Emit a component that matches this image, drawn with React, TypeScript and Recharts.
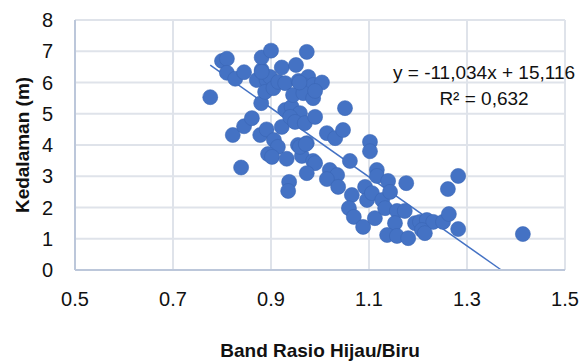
import React from 'react'
import {
  ScatterChart,
  Scatter,
  XAxis,
  YAxis,
  CartesianGrid,
  ReferenceLine,
} from 'recharts'

// band ratio green/blue (x) and depth in metres (y)
const ratio = [
  0.776, 0.8, 0.81, 0.81, 0.827, 0.845, 0.822, 0.845, 0.861, 0.839,
  0.88, 0.871, 0.881, 0.881, 0.9, 0.891, 0.898, 0.888, 0.905, 0.915,
  0.922, 0.929, 0.878, 0.891, 0.922, 0.906, 0.914, 0.894, 0.902, 0.932,
  0.937, 0.935, 0.929, 0.942, 0.946, 0.945, 0.951, 0.956, 0.973, 0.976,
  0.966, 0.986, 1.004, 0.966, 0.986, 0.99, 0.959, 0.939, 0.949, 0.969,
  0.99, 1.051, 0.973, 0.955, 0.963, 0.986, 0.99, 0.973, 1.014, 1.031,
  1.047, 1.102, 1.102, 1.061, 1.02, 1.035, 1.014, 1.037, 1.116, 1.116,
  1.139, 1.176, 1.282, 1.261, 1.065, 1.092, 1.096, 1.106, 1.127, 1.143,
  1.059, 1.069, 1.088, 1.112, 1.133, 1.157, 1.173, 1.153, 1.137, 1.157,
  1.18, 1.194, 1.204, 1.218, 1.231, 1.208, 1.214, 1.251, 1.263, 1.282,
  1.414, 0.959, 0.971, 0.881, 0.958,
]
const depth = [
  5.53, 6.69, 6.76, 6.31, 6.12, 6.33, 4.32, 4.6, 4.86, 3.28,
  5.34, 6.08, 6.4, 6.8, 7.02, 6.08, 6.18, 5.7, 5.82, 6.02,
  6.48, 5.98, 4.32, 4.5, 4.58, 4.16, 3.94, 3.71, 3.62, 3.56,
  2.82, 2.53, 5.12, 5.22, 4.8, 5.6, 6.56, 6.05, 6.98, 6.18,
  5.92, 5.92, 6.0, 5.66, 5.5, 5.73, 5.02, 4.9, 4.74, 4.7,
  4.9, 5.18, 4.06, 4.0, 3.65, 3.49, 3.42, 3.1, 4.38, 4.22,
  4.48, 4.1, 3.8, 3.49, 3.2, 3.04, 2.91, 2.66, 3.2, 3.01,
  2.85, 2.78, 3.01, 2.59, 2.4, 2.66, 2.24, 2.46, 2.24, 2.5,
  1.98, 1.7, 1.38, 1.66, 1.98, 1.89, 1.89, 1.5, 1.12, 1.09,
  1.02, 1.5, 1.54, 1.6, 1.54, 1.28, 1.18, 1.54, 1.79, 1.31,
  1.15, 3.94, 4.03, 6.34, 6.0,
]

const xTicks = [0.5, 0.7, 0.9, 1.1, 1.3, 1.5]
const yTicks = [0, 1, 2, 3, 4, 5, 6, 7, 8]

// linear trendline from the chart
const slope = -11.034
const intercept = 15.116
const r2 = 0.632
const trendStartX = Math.min(...ratio)

const data = ratio.map((x, i) => ({ x, y: depth[i] }))

const fmt = (v: number) => v.toLocaleString('id-ID', { minimumFractionDigits: 3 })

const font = "'Liberation Sans Narrow', 'Arial Narrow', 'Liberation Sans', Arial, sans-serif"
const blue = '#4472C4'

const Dot = (props: any) => (
  <circle cx={props.cx} cy={props.cy} r={7.5} fill={blue} stroke="#3b66b5" strokeWidth={0.6} />
)

export default function App() {
  const trendEndX = -intercept / slope
  return (
    <div style={{ position: 'absolute', left: 0, top: 0, width: 580, height: 362, background: '#fff', fontFamily: font }}>
      <ScatterChart width={580} height={362} margin={{ top: 20, right: 15, bottom: 0, left: 0 }}>
        <CartesianGrid stroke="#dfe3ea" strokeWidth={2} />
        <XAxis
          type="number"
          dataKey="x"
          domain={[0.5, 1.5]}
          ticks={xTicks}
          tickFormatter={(v) => String(v)}
          height={92}
          tickSize={0}
          tickMargin={22}
          axisLine={{ stroke: '#bcc7da', strokeWidth: 2 }}
          tick={{ fill: '#111', fontSize: 20, fontFamily: font }}
          label={{
            content: () => (
              <text x={320} y={357} textAnchor="middle" fontFamily={font} fontWeight="bold" fontSize={19} fill="#111">
                Band Rasio Hijau/Biru
              </text>
            ),
          }}
        />
        <YAxis
          type="number"
          dataKey="y"
          domain={[0, 8]}
          ticks={yTicks}
          width={75}
          tickSize={0}
          tickMargin={22}
          axisLine={{ stroke: '#bcc7da', strokeWidth: 2 }}
          tick={{ fill: '#111', fontSize: 20, fontFamily: font }}
          label={{
            content: () => (
              <text
                x={22}
                y={145}
                transform="rotate(-90 22 145)"
                textAnchor="middle"
                dominantBaseline="central"
                fontFamily={font}
                fontWeight="bold"
                fontSize={19}
                fill="#111"
              >
                Kedalaman (m)
              </text>
            ),
          }}
        />
        <ReferenceLine
          segment={[
            { x: trendStartX, y: slope * trendStartX + intercept },
            { x: trendEndX, y: 0 },
          ]}
          stroke={blue}
          strokeWidth={1.5}
        />
        <Scatter data={data} shape={<Dot />} isAnimationActive={false} />
      </ScatterChart>
      <div
        style={{
          position: 'absolute',
          left: 384,
          top: 60,
          width: 200,
          textAlign: 'center',
          fontSize: 19,
          lineHeight: '26px',
          color: '#111',
        }}
      >
        <div>y = {fmt(slope)}x + {fmt(intercept)}</div>
        <div>R² = {fmt(r2)}</div>
      </div>
    </div>
  )
}
